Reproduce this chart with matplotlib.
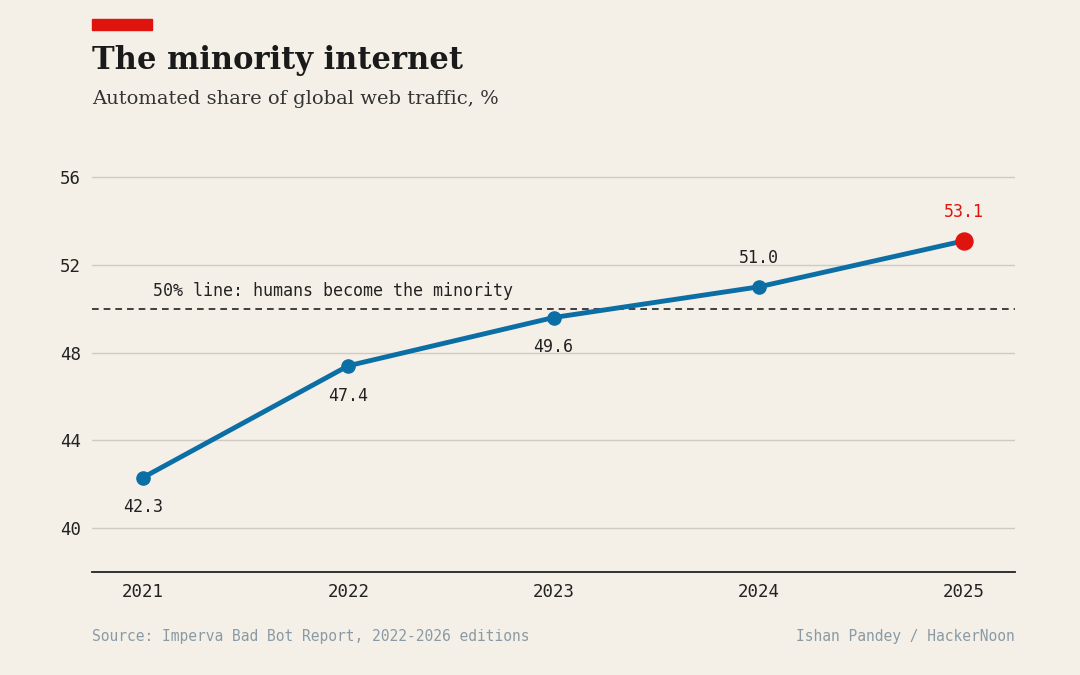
import matplotlib
matplotlib.use("Agg")
import matplotlib.pyplot as plt

years = [2021, 2022, 2023, 2024, 2025]
share = [42.3, 47.4, 49.6, 51.0, 53.1]
yticks = [40, 44, 48, 52, 56]

bg = "#f4f0e8"
blue = "#0b6ea5"
red = "#e0140f"
mono = ["DejaVu Sans Mono"]
serif = ["DejaVu Serif"]

fig = plt.figure(figsize=(10.8, 6.75), dpi=100, facecolor=bg)
ax = fig.add_axes([0.085, 0.153, 0.855, 0.633], facecolor=bg)
ax.set_xlim(2020.75, 2025.25)
ax.set_ylim(38, 57.5)
for s in ["top", "right", "left"]:
    ax.spines[s].set_visible(False)
ax.spines["bottom"].set_color("#222222")
ax.spines["bottom"].set_linewidth(1.3)
ax.set_yticks(yticks)
ax.set_xticks(years)
ax.tick_params(length=0, labelsize=12.5, colors="#222222", pad=8)
for lab in ax.get_xticklabels() + ax.get_yticklabels():
    lab.set_family(mono)
ax.grid(axis="y", color="#cfcbc4", linewidth=1)
ax.set_axisbelow(True)

ax.axhline(50, color="#222222", linestyle=(0, (4, 3)), linewidth=1.2)
ax.text(2021.05, 50.6, "50% line: humans become the minority", family=mono,
        fontsize=12, color="#222222")

ax.plot(years, share, color=blue, linewidth=3.5, zorder=3)
ax.scatter(years[:-1], share[:-1], s=90, color=blue, zorder=4)
ax.scatter(years[-1:], share[-1:], s=150, color=red, zorder=4)
for i, (x, y) in enumerate(zip(years, share)):
    above = i >= 3
    ax.annotate(f"{y:.1f}", (x, y), xytext=(0, 14 if above else -15),
                textcoords="offset points", ha="center",
                va="bottom" if above else "top", family=mono, fontsize=12,
                color=red if i == 4 else "#222222")

fig.patches.append(plt.Rectangle((92/1080, 1-30/675), 60/1080, 11/675,
                                 transform=fig.transFigure, color=red))
fig.text(92/1080, 1-60/675, "The minority internet", family=serif,
         fontweight="bold", fontsize=22, color="#1a1a1a", va="center")
fig.text(92/1080, 1-99/675, "Automated share of global web traffic, %",
         family=serif, fontsize=14, color="#333333", va="center")
fig.text(92/1080, 1-637/675, "Source: Imperva Bad Bot Report, 2022-2026 editions",
         family=mono, fontsize=10.5, color="#8a9aa5", va="center")
fig.text(1015/1080, 1-637/675, "Ishan Pandey / HackerNoon", family=mono,
         fontsize=10.5, color="#8a9aa5", va="center", ha="right")

fig.savefig("out.png", dpi=100, facecolor=bg)
